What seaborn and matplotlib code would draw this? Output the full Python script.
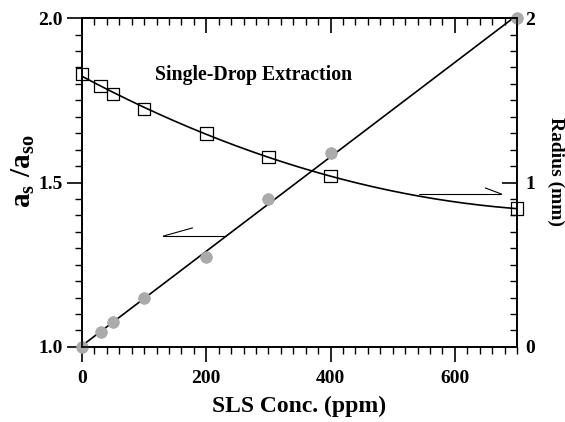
import numpy as np
import pandas as pd
import matplotlib
matplotlib.use("Agg")
import matplotlib.pyplot as plt
import seaborn as sns
from matplotlib.ticker import MultipleLocator

# ---- data ----
conc = [0, 30, 50, 100, 200, 300, 400, 700]
ratio = [1.0, 1.046, 1.076, 1.149, 1.274, 1.45, 1.59, 2.0]
radius = [1.66, 1.587, 1.538, 1.447, 1.30, 1.155, 1.04, 0.84]

x_label = "SLS Conc. (ppm)"
left_label = r"$\mathbf{a_s\ /a_{so}}$"
right_label = "Radius (mm)"
title_text = "Single-Drop Extraction"

sns.set_style("white")
plt.rcParams["font.family"] = ["Liberation Serif", "DejaVu Serif"]
plt.rcParams["font.weight"] = "bold"
plt.rcParams["text.color"] = "black"
plt.rcParams["axes.labelcolor"] = "black"
plt.rcParams["xtick.color"] = "black"
plt.rcParams["ytick.color"] = "black"
plt.rcParams["mathtext.fontset"] = "custom"
plt.rcParams["mathtext.rm"] = "Liberation Serif:bold"
plt.rcParams["mathtext.bf"] = "Liberation Serif:bold"
plt.rcParams["mathtext.it"] = "Liberation Serif:bold"

df = pd.DataFrame({"conc": conc, "ratio": ratio, "radius": radius})

# fitted curves from the data
xf = np.linspace(0, 700, 200)
lin = np.polyfit(df["conc"], df["ratio"], 1)
quad = np.polyfit(df["conc"], df["radius"], 2)
fit = pd.DataFrame({"x": xf, "ratio_fit": np.polyval(lin, xf), "radius_fit": np.polyval(quad, xf)})

fig = plt.figure(figsize=(5.65, 4.22), dpi=100)
ax = fig.add_axes([0.145, 0.178, 0.770, 0.779])
ax2 = ax.twinx()

sns.lineplot(data=fit, x="x", y="ratio_fit", ax=ax, color="black", lw=1.2)
sns.scatterplot(data=df, x="conc", y="ratio", ax=ax, s=70, color="#ababab",
                edgecolor="#a0a0a0", linewidth=0.5, zorder=5, clip_on=False)

sns.lineplot(data=fit, x="x", y="radius_fit", ax=ax2, color="black", lw=1.2)
sns.scatterplot(data=df, x="conc", y="radius", ax=ax2, s=85, marker="s",
                facecolor="none", edgecolor="black", linewidth=0.9, zorder=5, clip_on=False)

# half-arrows
ax.plot([131, 232], [1.337, 1.337], color="black", lw=0.8)
ax.plot([131, 178], [1.337, 1.362], color="black", lw=0.8)
ax2.plot([542, 675], [0.93, 0.93], color="black", lw=0.8)
ax2.plot([675, 649], [0.93, 0.967], color="black", lw=0.8)

ax.set_xlim(0, 700)
ax.set_ylim(1.0, 2.0)
ax2.set_ylim(0, 2)

ax.xaxis.set_major_locator(MultipleLocator(200))
ax.xaxis.set_minor_locator(MultipleLocator(20))
ax.yaxis.set_major_locator(MultipleLocator(0.5))
ax.yaxis.set_minor_locator(MultipleLocator(0.05))
ax2.yaxis.set_major_locator(MultipleLocator(1))
ax2.yaxis.set_minor_locator(MultipleLocator(0.1))
ax.yaxis.set_major_formatter(plt.FormatStrFormatter("%.1f"))
ax2.yaxis.set_major_formatter(plt.FormatStrFormatter("%d"))

for a in (ax, ax2):
    for s in a.spines.values():
        s.set_linewidth(1.2)
        s.set_color("black")

ax.tick_params(which="major", direction="out", length=11, width=1.2, labelsize=14, pad=3,
               bottom=True, left=True, top=False, right=False, colors="black")
ax.tick_params(which="minor", direction="out", length=5, width=1.0,
               bottom=True, left=True, top=False, right=False, colors="black")
ax.tick_params(axis="x", which="major", pad=6)
ax2.tick_params(which="major", direction="in", length=11, width=1.2, labelsize=14, pad=6,
                colors="black")
ax2.tick_params(which="minor", direction="in", length=5, width=1.0, colors="black")
ax2.tick_params(axis="y", which="both", right=True, left=False)

top = ax.secondary_xaxis("top")
top.xaxis.set_major_locator(MultipleLocator(200))
top.xaxis.set_minor_locator(MultipleLocator(20))
top.tick_params(which="major", direction="in", length=11, width=1.2, labeltop=False,
                colors="black")
top.tick_params(which="minor", direction="in", length=5, width=1.0, colors="black")
top.spines["top"].set_linewidth(1.2)
top.spines["top"].set_color("black")

for lab in ax.get_xticklabels() + ax.get_yticklabels() + ax2.get_yticklabels():
    lab.set_fontweight("bold")
    lab.set_color("black")

ax.set_xlabel(x_label, fontsize=17, fontweight="bold", labelpad=6, color="black")
ax.set_ylabel(left_label, fontsize=21, color="black")
ax.yaxis.label.set_va("center")
ax.yaxis.label.set_ha("center")
ax.yaxis.set_label_coords(-0.135, 0.535)

ax2.set_ylabel(right_label, fontsize=14, fontweight="bold", rotation=270, color="black")
ax2.yaxis.label.set_va("center")
ax2.yaxis.label.set_ha("center")
ax2.yaxis.set_label_coords(1.09, 0.535)

ax.text(117, 1.827, title_text, fontsize=14.2, fontweight="bold", va="center", ha="left",
        color="black")

fig.savefig("out.png", dpi=100)
